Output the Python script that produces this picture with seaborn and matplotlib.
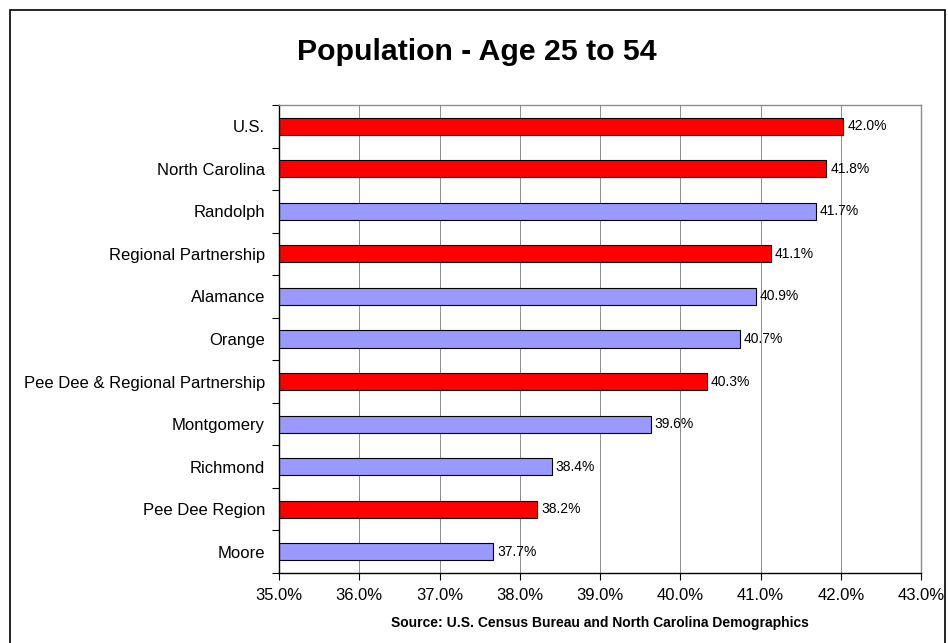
import matplotlib
matplotlib.use("Agg")
import matplotlib.pyplot as plt
import matplotlib.patches as mpatches
import seaborn as sns
import pandas as pd

categories = ["U.S.", "North Carolina", "Randolph", "Regional Partnership", "Alamance",
              "Orange", "Pee Dee & Regional Partnership", "Montgomery", "Richmond",
              "Pee Dee Region", "Moore"]
values = [42.03, 41.82, 41.69, 41.13, 40.94, 40.74, 40.33, 39.63, 38.40, 38.22, 37.67]
groups = ["region", "region", "county", "region", "county", "county", "region",
          "county", "county", "region", "county"]
xticks = [35, 36, 37, 38, 39, 40, 41, 42, 43]

sns.set_theme(style="white")
plt.rcParams['font.family'] = ['Liberation Sans', 'DejaVu Sans']
plt.rcParams['text.color'] = 'black'
plt.rcParams['xtick.color'] = 'black'
plt.rcParams['ytick.color'] = 'black'

df = pd.DataFrame({"cat": categories, "val": values, "grp": groups})
palette = {"region": "#FF0000", "county": "#9999FF"}

fig = plt.figure(figsize=(9.48, 6.43), dpi=100)
ax = fig.add_axes([279/948, 1-573/643, (921-279)/948, (573-105)/643])

sns.barplot(data=df, y="cat", x="val", hue="grp", palette=palette, dodge=False,
            orient="h", width=0.4, edgecolor="black", linewidth=0.8, saturation=1,
            legend=False, ax=ax)

ax.set_xlim(35, 43)
ax.set_ylim(len(categories) - 0.5, -0.5)
ax.set_xticks(xticks)
ax.set_xticklabels([f"{t:.1f}%" for t in xticks], fontsize=12)
ax.set_xlabel("")
ax.set_ylabel("")
ax.tick_params(axis="x", direction="out", length=5, width=0.8, color="black", pad=6,
               bottom=True, labelcolor="black")
ax.tick_params(axis="y", which="major", length=0, pad=10, labelsize=12, labelcolor="black")
ax.set_yticks([i - 0.5 for i in range(len(categories) + 1)], minor=True)
ax.tick_params(axis="y", which="minor", direction="out", length=5, width=0.8, color="black", left=True)

for x in xticks[1:-1]:
    ax.axvline(x, color="#8c8c8c", linewidth=0.7, zorder=0)

for s in ["left", "bottom"]:
    ax.spines[s].set_color("black")
    ax.spines[s].set_linewidth(1.0)
for s in ["top", "right"]:
    ax.spines[s].set_color("#8c8c8c")
    ax.spines[s].set_linewidth(1.0)

for i, v in enumerate(values):
    ax.text(v + 0.05, i, f"{v:.1f}%", va="center", ha="left", fontsize=10, color="black")

fig.text(477/948, 1-52/643, "Population - Age 25 to 54", ha="center", va="center",
         fontsize=21.8, fontweight="bold", color="black")
fig.text(600/948, 1-623/643, "Source: U.S. Census Bureau and North Carolina Demographics",
         ha="center", va="center", fontsize=10, fontweight="bold", color="black")

border = mpatches.Rectangle((10/948, -0.05), (945-10)/948, 1-10/643+0.05,
                            transform=fig.transFigure, fill=False, edgecolor="black",
                            linewidth=1.2, clip_on=False)
fig.patches.append(border)

fig.savefig("out.png", dpi=100)
